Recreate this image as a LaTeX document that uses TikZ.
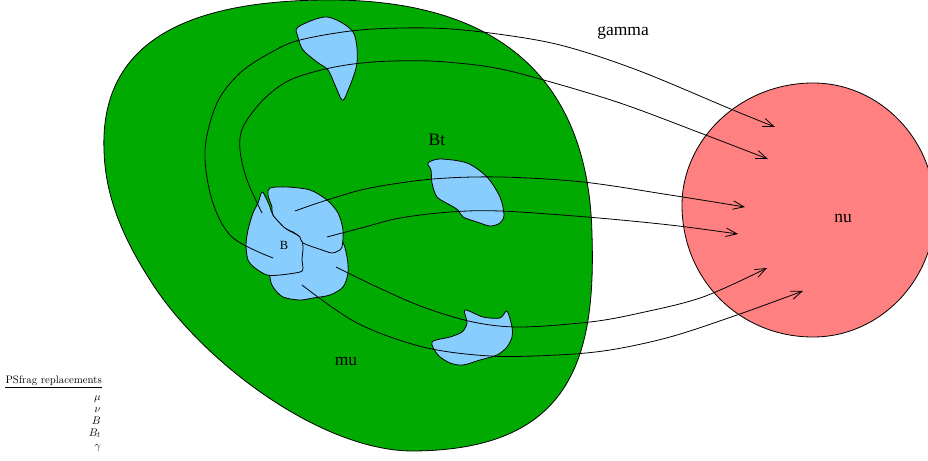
\documentclass[tikz,border=0pt]{standalone}
\usepackage{fontspec}
\newfontfamily\labelfont{Liberation Serif}
\usetikzlibrary{arrows.meta}
\definecolor{fieldgreen}{RGB}{0,170,0}
\definecolor{setblue}{RGB}{135,206,255}
\definecolor{targetred}{RGB}{255,128,128}
\tikzset{
  region/.style={draw=black, line width=0.8pt},
  flow/.style={draw=black, line width=0.8pt, -{Straight Barb[length=11pt,width=8.5pt]}},
  biglabel/.style={font=\labelfont\fontsize{17.5}{20}\selectfont, inner sep=0pt},
  smalllabel/.style={font=\labelfont\fontsize{12.5}{14}\selectfont, inner sep=0pt},
  legend/.style={font=\fontsize{10.8}{12}\selectfont, inner sep=0pt, anchor=base east},
}
\begin{document}
\begin{tikzpicture}[x=1pt,y=-1pt]
\useasboundingbox (0,0) rectangle (928,460);
\clip (0,0) rectangle (928,460);

% source measure
\fill[fieldgreen, region] (104,150)
  .. controls (100,40) and (190,0) .. (330,0)
  .. controls (450,0) and (588,40) .. (592,235)
  .. controls (596,360) and (570,450) .. (413,451)
  .. controls (320,451) and (200,360) .. (150,280)
  .. controls (118,230) and (105,190) .. (104,150) -- cycle;

% target measure
\fill[targetred, region] (813,83)
  .. controls (740,83) and (682,140) .. (682,205)
  .. controls (682,280) and (740,337) .. (813,337)
  .. controls (880,337) and (935,280) .. (935,210)
  .. controls (935,140) and (880,83) .. (813,83) -- cycle;

% transported pieces
\fill[setblue, region] plot[smooth cycle, tension=0.5] coordinates {
  (298,27) (327,17) (353,32) (357,63) (347,93) (342,100) (335,85) (328,70)
  (317,62) (303,50) (298,37)};
\fill[setblue, region] plot[smooth cycle, tension=0.5] coordinates {
  (428,163) (440,159) (467,163) (487,177) (500,197) (504,215) (500,223)
  (490,226) (477,222) (463,217) (458,210) (450,205) (437,197) (432,183) (431,170)};
\fill[setblue, region] plot[smooth cycle, tension=0.5] coordinates {
  (465,310) (483,317) (500,318) (507,311) (512,327) (512,337) (507,347)
  (497,355) (480,360) (463,365) (450,363) (438,355) (432,342) (450,337)
  (462,332) (467,323)};

% the set B, made of three overlapping pieces
\fill[setblue, region] plot[smooth cycle, tension=0.5] coordinates {
  (270,277) (273,287) (283,297) (300,300) (313,298) (330,295) (343,287)
  (348,273) (347,257) (341,240) (320,238) (300,240) (282,250) (272,265)};
\fill[setblue, region] plot[smooth cycle, tension=0.5] coordinates {
  (262,192) (258,203) (253,213) (248,230) (246,245) (248,260) (255,268)
  (267,275) (280,275) (300,272) (303,268) (302,260) (303,247) (300,237)
  (285,228) (273,215) (270,207) (266,198)};
\fill[setblue, region] plot[smooth cycle, tension=0.5] coordinates {
  (270,188) (287,187) (310,190) (327,200) (338,213) (343,230) (342,247)
  (338,251) (332,253) (322,250) (303,243) (300,237) (293,232) (285,228)
  (273,215) (272,207) (268,195)};

% transport paths
\draw[flow] plot[smooth, tension=0.55] coordinates {
  (273,258) (232,237) (212,200) (205,150) (217,103) (240,73) (270,53) (300,40)
  (360,30) (430,28) (490,33) (560,45) (637,70) (733,110) (775,127)};
\draw[flow] plot[smooth, tension=0.55] coordinates {
  (262,213) (247,180) (240,150) (243,127) (263,100) (290,80) (330,68) (373,62)
  (430,61) (490,67) (540,79) (620,103) (703,134) (768,159)};
\draw[flow] plot[smooth, tension=0.55] coordinates {
  (295,211) (327,200) (370,188) (433,179) (500,177) (583,182) (670,195) (745,207)};
\draw[flow] plot[smooth, tension=0.55] coordinates {
  (327,237) (365,227) (400,218) (450,212) (500,211) (587,217) (670,225) (738,234)};
\draw[flow] plot[smooth, tension=0.55] coordinates {
  (336,267) (377,287) (423,307) (473,322) (520,327) (590,322) (640,313) (703,297) (767,268)};
\draw[flow] plot[smooth, tension=0.55] coordinates {
  (302,285) (357,323) (423,347) (490,356) (557,355) (610,350) (670,337) (737,315) (803,291)};

% labels
\node[biglabel] (gamma) at (623,33) {gamma};
\node[biglabel] (bt) at (437,140) {Bt};
\node[smalllabel] (b) at (284,245) {B};
\node[biglabel] (nu) at (843,218) {nu};
\node[biglabel] (mu) at (346,361) {mu};

% replacement list
\node[legend] (head) at (102,383.5) {PSfrag replacements};
\draw[line width=0.6pt] ([yshift=-3.5pt]head.base west) -- ([yshift=-3.5pt]head.base east);
\node[legend] (r1) at (101,400.5) {$\mu$};
\node[legend] (r2) at (101,412.7) {$\nu$};
\node[legend] (r3) at (101,424.9) {$B$};
\node[legend] (r4) at (101,436.1) {$B_t$};
\node[legend] (r5) at (101,449.3) {$\gamma$};
\end{tikzpicture}
\end{document}
